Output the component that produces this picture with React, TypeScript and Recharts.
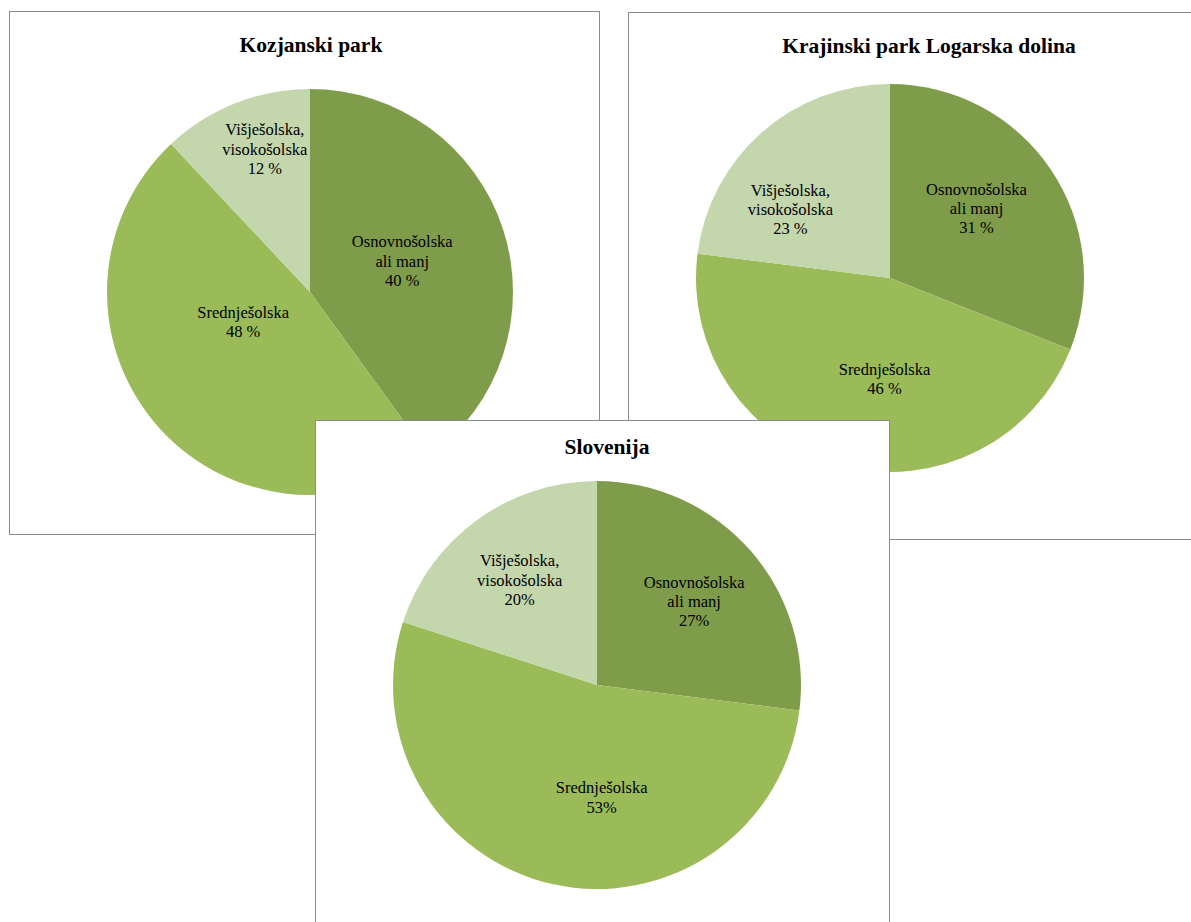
import React from "react";
import { PieChart, Pie, Cell } from "recharts";

// categories (label lines) and shares in percent, clockwise from 12 o'clock
const categories = [["Osnovnošolska", "ali manj"], ["Srednješolska"], ["Višješolska,", "visokošolska"]];
const kozjanskiValues = [40, 48, 12];
const logarskaValues = [31, 46, 23];
const slovenijaValues = [27, 53, 20];
const chartTitles = ["Kozjanski park", "Krajinski park Logarska dolina", "Slovenija"];
const percentSuffix = [" %", " %", "%"];

const colors = ["#7f9c4a", "#9bbb59", "#c4d6ac"];
const FONT = "'Liberation Serif', 'Times New Roman', serif";
const RAD = Math.PI / 180;

// label placement per slice: k = fraction of radius, da = clockwise nudge in degrees
type Placement = { k: number; da: number };

type PanelProps = {
  title: string;
  values: number[];
  suffix: string;
  left: number;
  top: number;
  width: number;
  height: number;
  cx: number;
  cy: number;
  r: number;
  titleX: number;
  titleY: number;
  placement: Placement[];
};

function Panel(p: PanelProps) {
  const data = categories.map((lines, i) => ({ name: lines.join(" "), value: p.values[i] }));

  const renderLabel = (props: any) => {
    const { cx, cy, midAngle, index, value } = props;
    const pl = p.placement[index];
    const a = (midAngle - pl.da) * RAD;
    const x = cx + p.r * pl.k * Math.cos(a);
    const y = cy - p.r * pl.k * Math.sin(a);
    const lines = [...categories[index], `${value}${p.suffix}`];
    const lh = 19.3;
    const y0 = y - ((lines.length - 1) * lh) / 2;
    return (
      <text x={x} y={y0} textAnchor="middle" dominantBaseline="central" fontFamily={FONT} fontSize={16.5} fill="#000">
        {lines.map((l, i) => (
          <tspan key={i} x={x} dy={i === 0 ? 0 : lh}>
            {l}
          </tspan>
        ))}
      </text>
    );
  };

  return (
    <div
      style={{
        position: "absolute",
        left: p.left,
        top: p.top,
        width: p.width,
        height: p.height,
        boxSizing: "border-box",
        border: "1px solid #8c8c8c",
        background: "#fff",
      }}
    >
      <div
        style={{
          position: "absolute",
          left: 0,
          width: p.titleX * 2,
          top: p.titleY - 13,
          height: 26,
          lineHeight: "26px",
          textAlign: "center",
          fontFamily: FONT,
          fontWeight: "bold",
          fontSize: 21.5,
          color: "#000",
          whiteSpace: "nowrap",
        }}
      >
        {p.title}
      </div>
      <PieChart width={p.width - 2} height={p.height - 2} margin={{ top: 0, right: 0, bottom: 0, left: 0 }}>
        <Pie
          data={data}
          dataKey="value"
          nameKey="name"
          cx={p.cx}
          cy={p.cy}
          outerRadius={p.r}
          startAngle={90}
          endAngle={-270}
          stroke="none"
          label={renderLabel}
          labelLine={false}
          isAnimationActive={false}
        >
          {data.map((_, i) => (
            <Cell key={i} fill={colors[i]} />
          ))}
        </Pie>
      </PieChart>
    </div>
  );
}

export default function App() {
  return (
    <div style={{ position: "absolute", left: 0, top: 0, width: 1191, height: 922, overflow: "hidden", background: "#fff" }}>
      <Panel
        title={chartTitles[0]}
        values={kozjanskiValues}
        suffix={percentSuffix[0]}
        left={9}
        top={11}
        width={591}
        height={524}
        cx={300}
        cy={280}
        r={203}
        titleX={301}
        titleY={33}
        placement={[
          { k: 0.48, da: -0.8 },
          { k: 0.36, da: 15.7 },
          { k: 0.74, da: 4.1 },
        ]}
      />
      <Panel
        title={chartTitles[1]}
        values={logarskaValues}
        suffix={percentSuffix[1]}
        left={628}
        top={12}
        width={600}
        height={528}
        cx={261}
        cy={265}
        r={194}
        titleX={300}
        titleY={33}
        placement={[
          { k: 0.574, da: -4.8 },
          { k: 0.52, da: -11.3 },
          { k: 0.625, da: -13.8 },
        ]}
      />
      <Panel
        title={chartTitles[2]}
        values={slovenijaValues}
        suffix={percentSuffix[2]}
        left={315}
        top={420}
        width={575}
        height={540}
        cx={281}
        cy={264}
        r={204}
        titleX={291}
        titleY={26}
        placement={[
          { k: 0.63, da: 0.5 },
          { k: 0.55, da: -15 },
          { k: 0.64, da: -0.3 },
        ]}
      />
    </div>
  );
}
